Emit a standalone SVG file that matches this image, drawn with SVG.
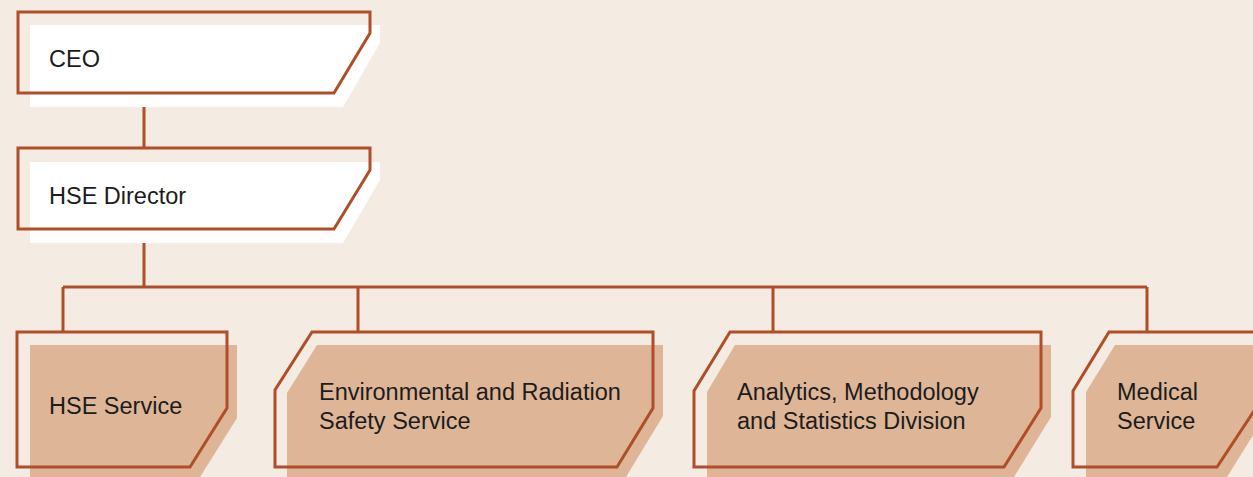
<svg xmlns="http://www.w3.org/2000/svg" width="1253" height="477" viewBox="0 0 1253 477">
  <style>
    .bg { fill: #F4EBE2; }
    .plate-white { fill: #FFFFFF; }
    .plate-tan { fill: #DEB596; }
    .frame { fill: none; stroke: #B04E2A; stroke-width: 3; stroke-linejoin: miter; }
    .link { fill: none; stroke: #B04E2A; stroke-width: 3; }
    .label { font-family: "Liberation Sans", Arial, sans-serif; font-size: 23.5px; fill: #1C1C1C; }
  </style>

  <rect class="bg" x="0" y="0" width="1253" height="477"/>

  <!-- org chart links -->
  <g id="connectors">
    <path class="link" d="M144 93 V148"/>
    <path class="link" d="M144 229 V287"/>
    <path class="link" d="M63 287 H1147"/>
    <path class="link" d="M63 287 V332"/>
    <path class="link" d="M358 287 V332"/>
    <path class="link" d="M773 287 V332"/>
    <path class="link" d="M1147 287 V332"/>
  </g>

  <g id="node-ceo">
    <polygon class="plate-white" points="30,25 380,25 380,43 343,107 30,107"/>
    <polygon class="frame" points="18,12 370,12 370,33 334,93 18,93"/>
    <text class="label" x="49" y="67">CEO</text>
  </g>

  <g id="node-hse-director">
    <polygon class="plate-white" points="30,162 380,162 380,180 343,243 30,243"/>
    <polygon class="frame" points="18,148 370,148 370,170 334,229 18,229"/>
    <text class="label" x="49" y="204">HSE Director</text>
  </g>

  <g id="node-hse-service">
    <polygon class="plate-tan" points="30,345 237,345 237,418 200,477 30,477"/>
    <polygon class="frame" points="17,332 227,332 227,408 190,467 17,467"/>
    <text class="label" x="49" y="414">HSE Service</text>
  </g>

  <g id="node-env-radiation">
    <polygon class="plate-tan" points="317,345 663,345 663,416 626,477 287,477 287,393"/>
    <polygon class="frame" points="312,332 653,332 653,408 617,467 275,467 275,390"/>
    <text class="label" x="319" y="400">Environmental and Radiation</text>
    <text class="label" x="319" y="429">Safety Service</text>
  </g>

  <g id="node-analytics">
    <polygon class="plate-tan" points="735,345 1051,345 1051,417 1014,477 707,477 707,392"/>
    <polygon class="frame" points="730,332 1041,332 1041,408 1004,467 694,467 694,391"/>
    <text class="label" x="737" y="400">Analytics, Methodology</text>
    <text class="label" x="737" y="429">and Statistics Division</text>
  </g>

  <g id="node-medical">
    <polygon class="plate-tan" points="1115,345 1270,345 1270,408 1227,477 1086,477 1086,392"/>
    <polygon class="frame" points="1109,332 1258,332 1258,405 1217,467 1073,467 1073,391"/>
    <text class="label" x="1117" y="400">Medical</text>
    <text class="label" x="1117" y="429">Service</text>
  </g>
</svg>
